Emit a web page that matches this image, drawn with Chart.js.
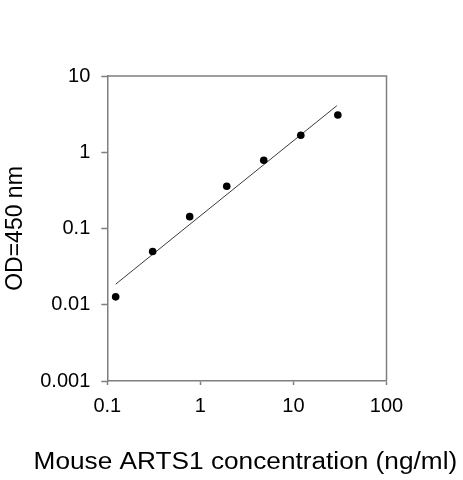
<!DOCTYPE html>
<html>
<head>
<meta charset="utf-8">
<script src="https://cdn.jsdelivr.net/npm/chart.js@4"></script>
<style>
html,body{margin:0;padding:0;background:#fff;}
canvas{display:block;}
</style>
</head>
<body>
<canvas id="c" width="463" height="480"></canvas>
<script>
// Data
const concentration = [0.123, 0.307, 0.768, 1.92, 4.8, 12, 30];
const od450 = [0.0127, 0.0499, 0.143, 0.358, 0.785, 1.67, 3.08];
const fitX = [0.123, 29.3];
const fitY = [0.0186, 4.08];
const xTickValues = [0.1, 1, 10, 100];
const xTickLabels = ['0.1', '1', '10', '100'];
const yTickValues = [0.001, 0.01, 0.1, 1, 10];
const yTickLabels = ['0.001', '0.01', '0.1', '1', '10'];
const xTitle = 'Mouse ARTS1 concentration (ng/ml)';
const yTitle = 'OD=450 nm';

const AXIS = '#7f7f7f';
const FONT = "'Liberation Sans', Arial, sans-serif";

const framePlugin = {
  id: 'frame',
  afterDatasetsDraw(chart) {
    const {ctx, chartArea: a} = chart;
    ctx.save();
    ctx.strokeStyle = AXIS;
    ctx.lineWidth = 1.5;
    ctx.beginPath();
    ctx.moveTo(a.left, a.top);
    ctx.lineTo(a.right, a.top);
    ctx.lineTo(a.right, a.bottom);
    ctx.stroke();
    ctx.restore();
  }
};

// x-axis title drawn wide (the reference text is horizontally stretched)
const xTitlePlugin = {
  id: 'xTitleWide',
  afterDraw(chart) {
    const {ctx, chartArea: a} = chart;
    ctx.save();
    ctx.font = "23px " + FONT;
    ctx.fillStyle = '#000';
    ctx.textAlign = 'center';
    ctx.textBaseline = 'alphabetic';
    const cx = (a.left + a.right) / 2 - 1.5;
    ctx.translate(cx, 469);
    ctx.scale(1.14, 1);
    ctx.fillText(xTitle, 0, 0);
    ctx.restore();
  }
};

new Chart(document.getElementById('c'), {
  type: 'scatter',
  data: {
    datasets: [
      {
        type: 'line',
        data: fitX.map((x, i) => ({x: x, y: fitY[i]})),
        borderColor: '#3a3a3a',
        borderWidth: 1,
        pointRadius: 0,
        fill: false,
        order: 2
      },
      {
        data: concentration.map((x, i) => ({x: x, y: od450[i]})),
        backgroundColor: '#000',
        borderColor: '#000',
        pointRadius: 3.8,
        borderWidth: 0,
        order: 1
      }
    ]
  },
  options: {
    responsive: false,
    animation: false,
    devicePixelRatio: 1,
    layout: {padding: {left: 0, top: 76, right: 76.5, bottom: 0}},
    plugins: {legend: {display: false}, tooltip: {enabled: false}},
    scales: {
      x: {
        type: 'logarithmic',
        min: 0.1, max: 100,
        afterBuildTicks: s => { s.ticks = xTickValues.map(v => ({value: v})); },
        afterFit: s => { s.height = 99; },
        border: {color: AXIS, width: 1.5},
        grid: {display: true, drawOnChartArea: false, drawTicks: true, tickLength: 4, tickColor: AXIS, tickWidth: 1.5},
        ticks: {
          color: '#000', padding: 9.5, maxRotation: 0, autoSkip: false,
          font: {family: FONT, size: 20},
          callback: (v) => { const i = xTickValues.indexOf(v); return i >= 0 ? xTickLabels[i] : ''; }
        },
        title: {display: false, text: xTitle}
      },
      y: {
        type: 'logarithmic',
        min: 0.001, max: 10,
        afterBuildTicks: s => { s.ticks = yTickValues.map(v => ({value: v})); },
        afterFit: s => { s.width = 107.3; },
        border: {color: AXIS, width: 1.5},
        grid: {display: true, drawOnChartArea: false, drawTicks: true, tickLength: 6, tickColor: AXIS, tickWidth: 1.5},
        ticks: {
          color: '#000', padding: 11, autoSkip: false,
          font: {family: FONT, size: 20},
          callback: (v) => { const i = yTickValues.indexOf(v); return i >= 0 ? yTickLabels[i] : ''; }
        },
        title: {display: true, text: yTitle, color: '#000', font: {family: FONT, size: 23}, padding: {top: 2, bottom: 0}}
      }
    }
  },
  plugins: [framePlugin, xTitlePlugin]
});
</script>
</body>
</html>
